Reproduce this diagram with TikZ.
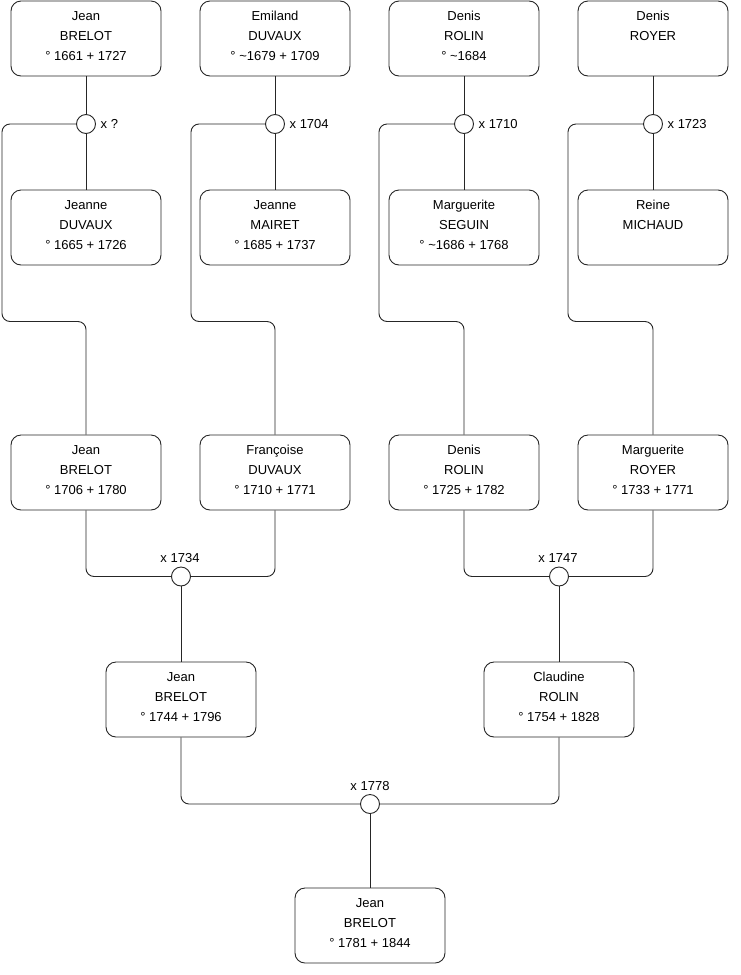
\documentclass[tikz,border=0pt]{standalone}
\usepackage{fontspec}
\setmainfont{Liberation Sans}
\begin{document}
\begin{tikzpicture}[x=1pt,y=-1pt,
  person/.style={draw=black!85, line width=0.9pt, rounded corners=10pt, minimum width=150pt, minimum height=75pt, inner sep=0pt, fill=white},
  ptxt/.style={anchor=north, align=center, inner sep=0pt, font=\fontsize{13}{20}\selectfont, execute at begin node=\strut},
  wed/.style={draw=black!85, line width=0.9pt, circle, minimum size=19pt, inner sep=0pt, fill=white},
  wlab/.style={inner sep=0pt, font=\fontsize{13}{16}\selectfont},
  link/.style={draw=black!85, line width=0.9pt, rounded corners=8pt}
]
\useasboundingbox (0,0) rectangle (740,975);

% row 1
\node[person] (p1) at (86,38.5) {};
\node[person] (p2) at (275,38.5) {};
\node[person] (p3) at (464,38.5) {};
\node[person] (p4) at (653,38.5) {};
% row 2
\node[person] (p5) at (86,227.5) {};
\node[person] (p6) at (275,227.5) {};
\node[person] (p7) at (464,227.5) {};
\node[person] (p8) at (653,227.5) {};
% row 3
\node[person] (p9) at (86,472.5) {};
\node[person] (p10) at (275,472.5) {};
\node[person] (p11) at (464,472.5) {};
\node[person] (p12) at (653,472.5) {};
% row 4
\node[person] (p13) at (181,699.5) {};
\node[person] (p14) at (559,699.5) {};
% row 5
\node[person] (p15) at (370,925.5) {};

% texts
\node[ptxt] (t1) at ([yshift=-10.5pt]p1.north) {Jean\\BRELOT\\° 1661 + 1727};
\node[ptxt] (t2) at ([yshift=-10.5pt]p2.north) {Emiland\\DUVAUX\\° \textasciitilde1679 + 1709};
\node[ptxt] (t3) at ([yshift=-10.5pt]p3.north) {Denis\\ROLIN\\° \textasciitilde1684};
\node[ptxt] (t4) at ([yshift=-10.5pt]p4.north) {Denis\\ROYER};
\node[ptxt] (t5) at ([yshift=-10.5pt]p5.north) {Jeanne\\DUVAUX\\° 1665 + 1726};
\node[ptxt] (t6) at ([yshift=-10.5pt]p6.north) {Jeanne\\MAIRET\\° 1685 + 1737};
\node[ptxt] (t7) at ([yshift=-10.5pt]p7.north) {Marguerite\\SEGUIN\\° \textasciitilde1686 + 1768};
\node[ptxt] (t8) at ([yshift=-10.5pt]p8.north) {Reine\\MICHAUD};
\node[ptxt] (t9) at ([yshift=-10.5pt]p9.north) {Jean\\BRELOT\\° 1706 + 1780};
\node[ptxt] (t10) at ([yshift=-10.5pt]p10.north) {Françoise\\DUVAUX\\° 1710 + 1771};
\node[ptxt] (t11) at ([yshift=-10.5pt]p11.north) {Denis\\ROLIN\\° 1725 + 1782};
\node[ptxt] (t12) at ([yshift=-10.5pt]p12.north) {Marguerite\\ROYER\\° 1733 + 1771};
\node[ptxt] (t13) at ([yshift=-10.5pt]p13.north) {Jean\\BRELOT\\° 1744 + 1796};
\node[ptxt] (t14) at ([yshift=-10.5pt]p14.north) {Claudine\\ROLIN\\° 1754 + 1828};
\node[ptxt] (t15) at ([yshift=-10.5pt]p15.north) {Jean\\BRELOT\\° 1781 + 1844};

% marriage circles
\node[wed] (c1) at (86,124) {};
\node[wed] (c2) at (275,124) {};
\node[wed] (c3) at (464,124) {};
\node[wed] (c4) at (653,124) {};
\node[wed] (c5) at (181,576.5) {};
\node[wed] (c6) at (559,576.5) {};
\node[wed] (c7) at (370,804) {};

% marriage labels
\node[wlab, anchor=base west] (l1) at ([xshift=4.5pt,yshift=-4.5pt]c1.east) {x ?};
\node[wlab, anchor=base west] (l2) at ([xshift=4.5pt,yshift=-4.5pt]c2.east) {x 1704};
\node[wlab, anchor=base west] (l3) at ([xshift=4.5pt,yshift=-4.5pt]c3.east) {x 1710};
\node[wlab, anchor=base west] (l4) at ([xshift=4.5pt,yshift=-4.5pt]c4.east) {x 1723};
\node[wlab, anchor=base] (l5) at ([xshift=-1pt,yshift=4pt]c5.north) {x 1734};
\node[wlab, anchor=base] (l6) at ([xshift=-1pt,yshift=4pt]c6.north) {x 1747};
\node[wlab, anchor=base] (l7) at ([yshift=4pt]c7.north) {x 1778};

% spouse links (top rows)
\foreach \a/\c/\b in {p1/c1/p5, p2/c2/p6, p3/c3/p7, p4/c4/p8}{
  \draw[link] (\a.south) -- (\c.north);
  \draw[link] (\c.south) -- (\b.north);
}

% descendant links from top marriages
\draw[link] (c1.west) -- (2,124) -- (2,321.5) -- (86,321.5) -- (p9.north);
\draw[link] (c2.west) -- (191,124) -- (191,321.5) -- (275,321.5) -- (p10.north);
\draw[link] (c3.west) -- (379,124) -- (379,321.5) -- (464,321.5) -- (p11.north);
\draw[link] (c4.west) -- (568,124) -- (568,321.5) -- (653,321.5) -- (p12.north);

% marriages row 3
\draw[link] (p9.south) |- (c5.west);
\draw[link] (p10.south) |- (c5.east);
\draw[link] (p11.south) |- (c6.west);
\draw[link] (p12.south) |- (c6.east);
\draw[link] (c5.south) -- (p13.north);
\draw[link] (c6.south) -- (p14.north);

% marriage row 4
\draw[link] (p13.south) |- (c7.west);
\draw[link] (p14.south) |- (c7.east);
\draw[link] (c7.south) -- (p15.north);
\end{tikzpicture}
\end{document}
